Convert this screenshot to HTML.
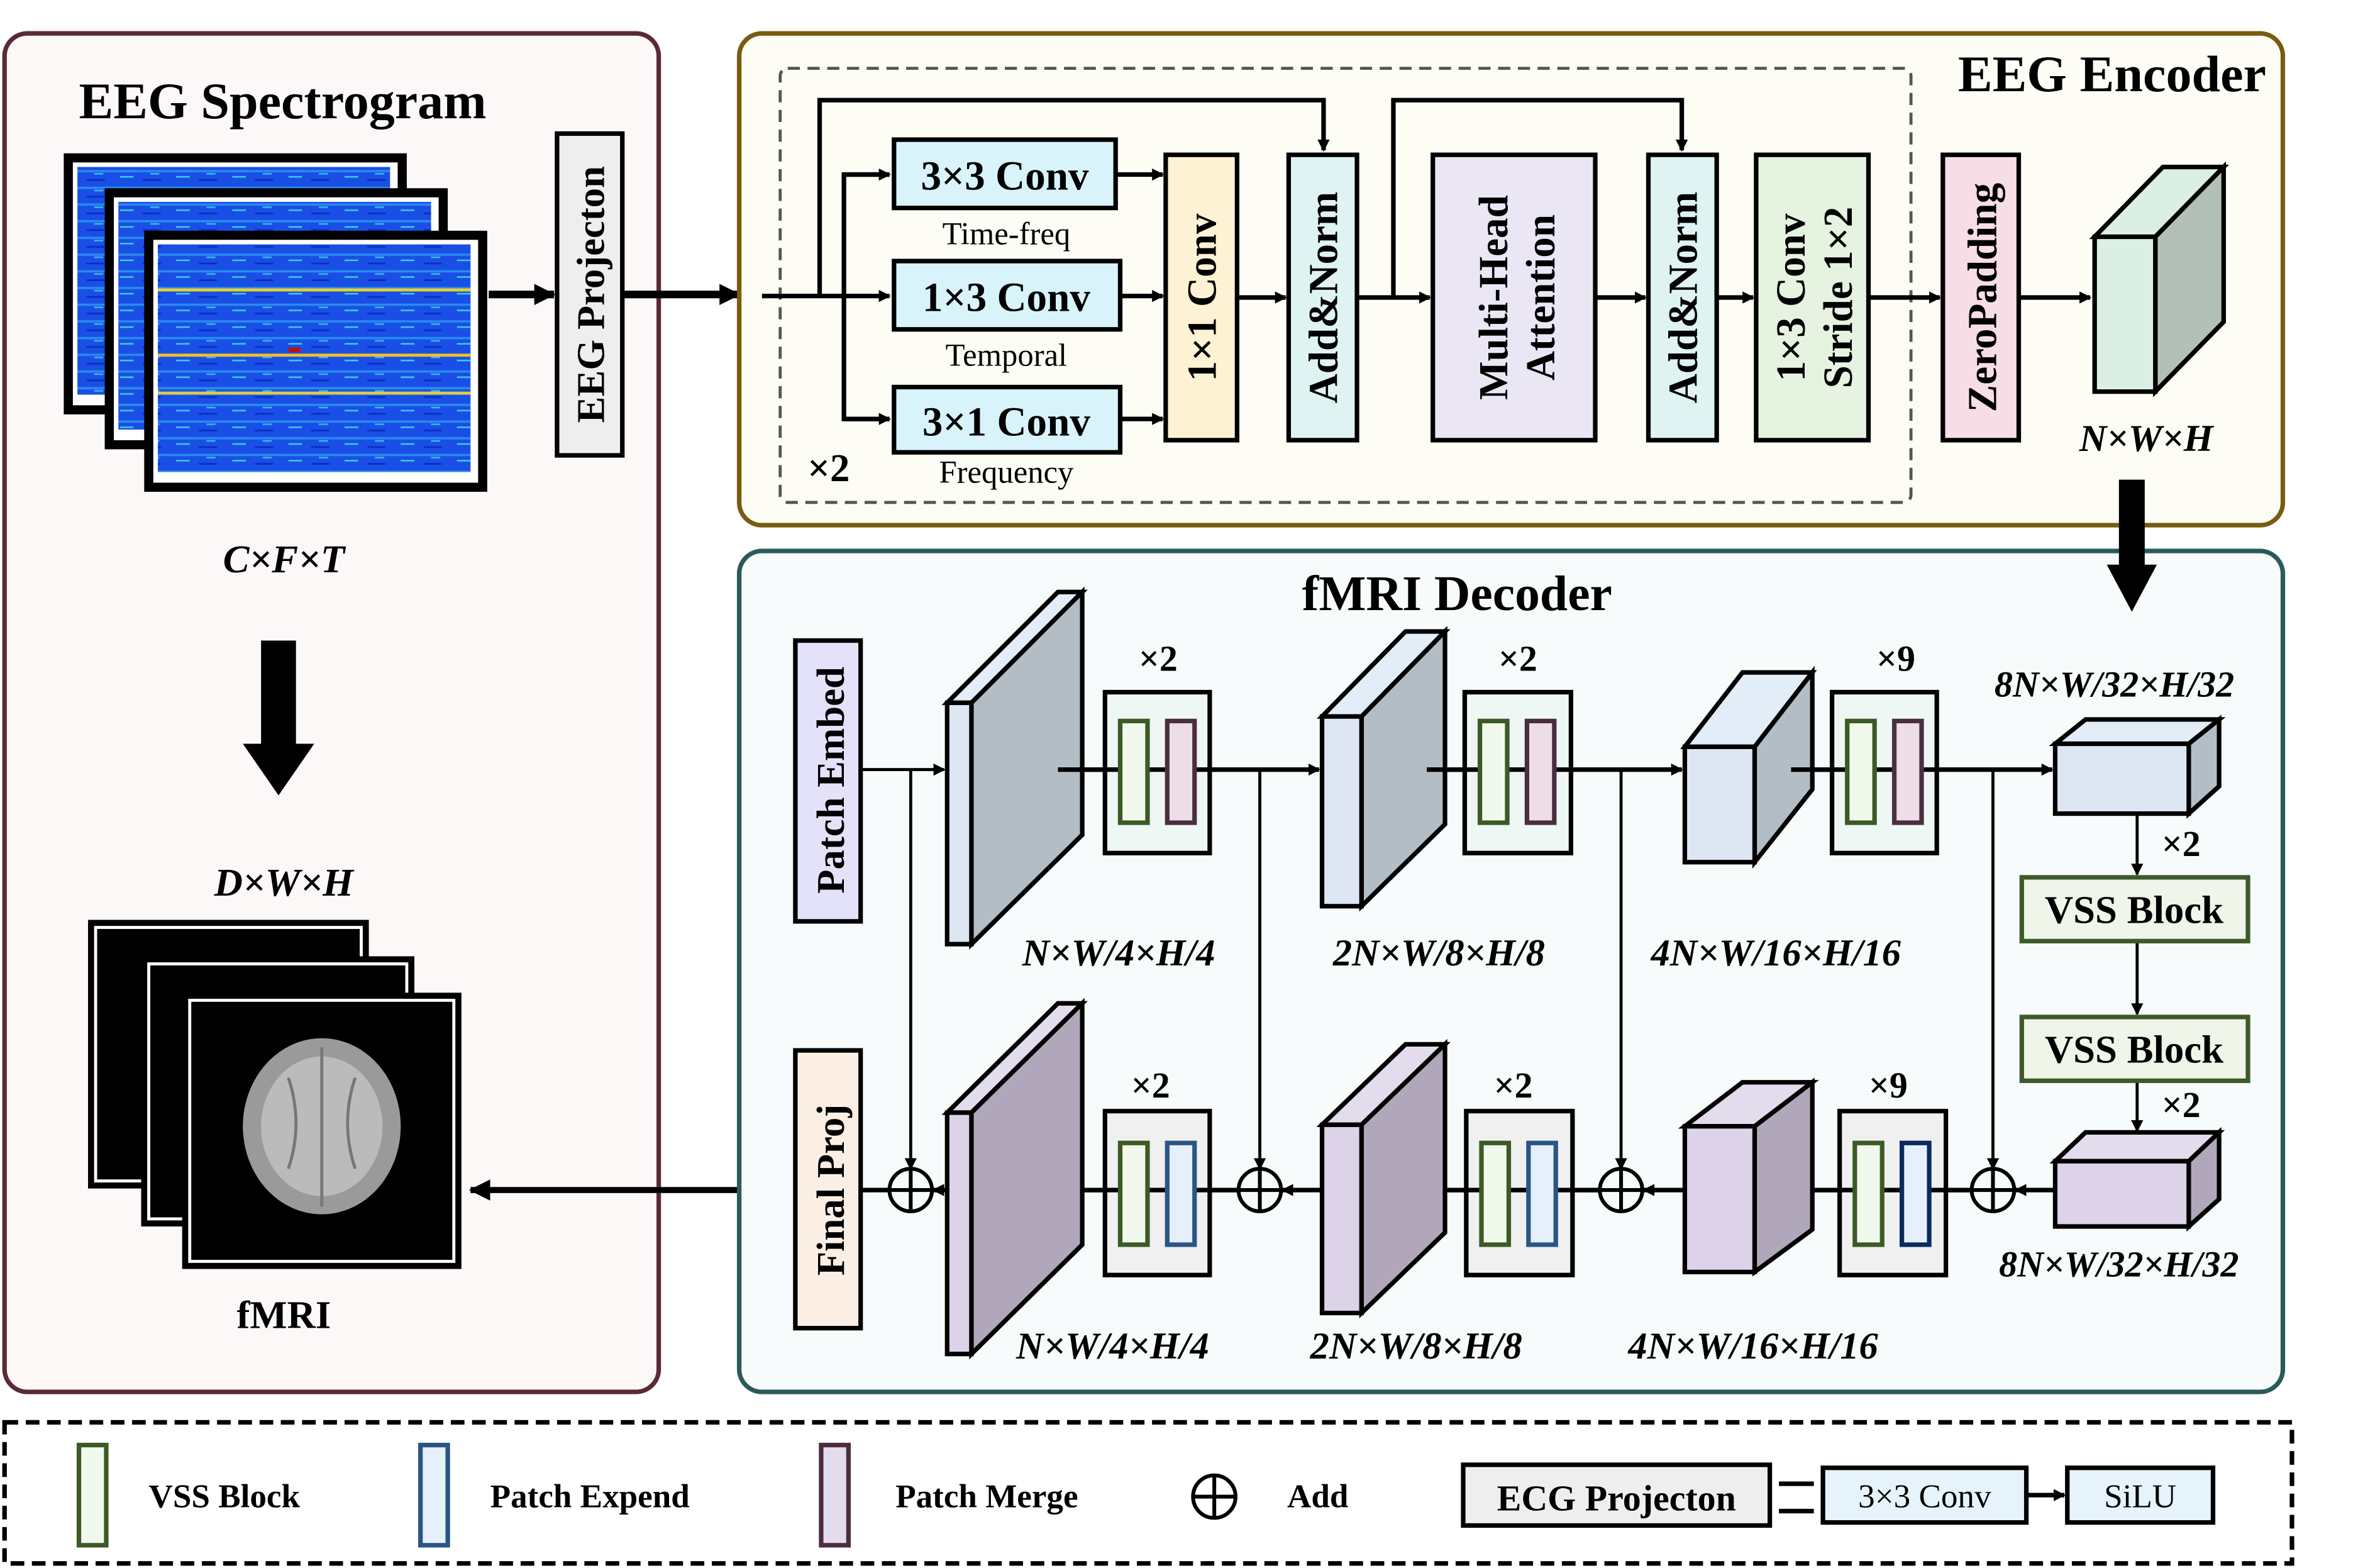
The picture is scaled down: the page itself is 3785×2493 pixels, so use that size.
<!DOCTYPE html>
<html><head><meta charset="utf-8"><style>
html,body{margin:0;padding:0;background:#fff}
svg{display:block}
text{font-family:"Liberation Serif",serif;fill:#000}
.b{font-weight:bold}
.i{font-style:italic;font-weight:bold}
</style></head><body>
<svg width="3785" height="2493" viewBox="0 0 1568 1033" preserveAspectRatio="none" xmlns="http://www.w3.org/2000/svg">
<defs>
<marker id="a" markerWidth="8" markerHeight="8" refX="7" refY="4" orient="auto" markerUnits="userSpaceOnUse"><path d="M0,0 L8,4 L0,8 Z" fill="#000"/></marker>
<marker id="A" markerWidth="14" markerHeight="14" refX="13" refY="7" orient="auto" markerUnits="userSpaceOnUse"><path d="M0,0 L14,7 L0,14 Z" fill="#000"/></marker>
<pattern id="spec" width="37" height="11" patternUnits="userSpaceOnUse">
<rect width="37" height="11" fill="#1a4fe6"/>
<rect y="2" width="37" height="1.5" fill="#2a8af0"/>
<rect x="5" y="6" width="9" height="1" fill="#3fd0e0"/>
<rect x="20" y="8" width="12" height="1.2" fill="#0a2fc0"/>
<rect x="25" y="4" width="6" height="1" fill="#40b8f0"/>
</pattern>
</defs>

<!-- Left panel -->
<rect x="3" y="22" width="431" height="895" rx="15" fill="#fcf8f8" stroke="#5a2a35" stroke-width="3"/>
<text x="52" y="78" class="b" font-size="34">EEG Spectrogram</text>
<rect x="45" y="104" width="220" height="166" fill="#fff" stroke="#000" stroke-width="6"/>
<rect x="51" y="110" width="206" height="150" fill="url(#spec)"/>
<rect x="72" y="127" width="220" height="166" fill="#fff" stroke="#000" stroke-width="6"/>
<rect x="78" y="133" width="206" height="150" fill="url(#spec)"/>
<rect x="98" y="155" width="220" height="166" fill="#fff" stroke="#000" stroke-width="6"/>
<rect x="104" y="161" width="206" height="150" fill="url(#spec)"/>
<rect x="104" y="190" width="206" height="2" fill="#e8d030"/>
<rect x="104" y="233" width="206" height="2" fill="#f0c020"/>
<rect x="104" y="258" width="206" height="2" fill="#d8d040"/>
<rect x="190" y="229" width="8" height="3" fill="#c01010"/>
<line x1="322" y1="194" x2="365" y2="194" stroke="#000" stroke-width="5" marker-end="url(#A)"/>
<rect x="367" y="88" width="43" height="212" fill="#eee" stroke="#000" stroke-width="3"/>
<text transform="translate(398,194) rotate(-90)" text-anchor="middle" class="b" font-size="26">EEG Projecton</text>
<line x1="410" y1="194" x2="487" y2="194" stroke="#000" stroke-width="5" marker-end="url(#A)"/>
<text x="187" y="377" text-anchor="middle" class="i" font-size="26">C×F×T</text>
<rect x="172" y="422" width="23" height="70" fill="#000"/>
<path d="M160,490 L207,490 L183.5,524 Z" fill="#000"/>
<text x="187" y="590" text-anchor="middle" class="i" font-size="26">D×W×H</text>
<rect x="58" y="606" width="185" height="177" fill="#000"/>
<rect x="63" y="611" width="175" height="167" fill="none" stroke="#fff" stroke-width="2"/>
<rect x="93" y="630" width="180" height="178" fill="#000"/>
<rect x="98" y="635" width="170" height="168" fill="none" stroke="#fff" stroke-width="2"/>
<rect x="120" y="654" width="184" height="182" fill="#000"/>
<rect x="125" y="659" width="174" height="172" fill="none" stroke="#fff" stroke-width="2"/>
<ellipse cx="212" cy="742" rx="52" ry="58" fill="#9a9a9a"/>
<ellipse cx="212" cy="742" rx="40" ry="46" fill="#bbb"/>
<path d="M212,690 L212,795 M190,710 Q200,740 190,770 M234,710 Q224,740 234,770" stroke="#777" stroke-width="2" fill="none"/>
<text x="187" y="875" text-anchor="middle" class="b" font-size="26">fMRI</text>
<line x1="512" y1="784" x2="310" y2="784" stroke="#000" stroke-width="4" marker-end="url(#A)"/>

<!-- EEG Encoder -->
<rect x="487" y="22" width="1017" height="324" rx="15" fill="#fdfcf5" stroke="#7a5c10" stroke-width="3"/>
<text x="1493" y="60" text-anchor="end" class="b" font-size="34">EEG Encoder</text>
<rect x="514" y="45" width="745" height="286" rx="5" fill="none" stroke="#555" stroke-width="2" stroke-dasharray="8,5"/>
<g stroke="#000" stroke-width="3" fill="none">
<line x1="502" y1="195" x2="586" y2="195" marker-end="url(#a)"/>
<polyline points="540,195 540,66 872,66 872,99" marker-end="url(#a)"/>
<polyline points="586,115 556,115 556,276 586,276" />
<line x1="556" y1="115" x2="586" y2="115" marker-end="url(#a)"/>
<line x1="556" y1="276" x2="586" y2="276" marker-end="url(#a)"/>
<line x1="735" y1="115" x2="766" y2="115" marker-end="url(#a)"/>
<line x1="738" y1="195" x2="766" y2="195" marker-end="url(#a)"/>
<line x1="738" y1="276" x2="766" y2="276" marker-end="url(#a)"/>
<line x1="815" y1="196" x2="847" y2="196" marker-end="url(#a)"/>
<line x1="894" y1="196" x2="942" y2="196" marker-end="url(#a)"/>
<polyline points="918,196 918,66 1108,66 1108,99" marker-end="url(#a)"/>
<line x1="1051" y1="196" x2="1084" y2="196" marker-end="url(#a)"/>
<line x1="1131" y1="196" x2="1155" y2="196" marker-end="url(#a)"/>
<line x1="1231" y1="196" x2="1278" y2="196" marker-end="url(#a)"/>
<line x1="1330" y1="196" x2="1377" y2="196" marker-end="url(#a)"/>
</g>
<g stroke="#000" stroke-width="3" fill="#d9f3fb">
<rect x="589" y="92" width="146" height="45"/>
<rect x="589" y="172" width="149" height="45"/>
<rect x="589" y="255" width="149" height="43"/>
</g>
<text x="662" y="125" text-anchor="middle" class="b" font-size="27">3×3 Conv</text>
<text x="663" y="205" text-anchor="middle" class="b" font-size="27">1×3 Conv</text>
<text x="663" y="287" text-anchor="middle" class="b" font-size="27">3×1 Conv</text>
<text x="663" y="161" text-anchor="middle" font-size="21">Time-freq</text>
<text x="663" y="241" text-anchor="middle" font-size="21">Temporal</text>
<text x="663" y="318" text-anchor="middle" font-size="21">Frequency</text>
<text x="532" y="317" class="b" font-size="26">×2</text>
<g stroke="#000" stroke-width="3">
<rect x="768" y="102" width="47" height="188" fill="#fdf3d4"/>
<rect x="849" y="102" width="45" height="188" fill="#dff3f3"/>
<rect x="944" y="102" width="107" height="188" fill="#ebe6f3"/>
<rect x="1086" y="102" width="45" height="188" fill="#dff3f3"/>
<rect x="1157" y="102" width="74" height="188" fill="#e6f3e1"/>
<rect x="1280" y="102" width="50" height="188" fill="#f6dde6"/>
</g>
<text transform="translate(801,196) rotate(-90)" text-anchor="middle" class="b" font-size="27">1×1 Conv</text>
<text transform="translate(881,196) rotate(-90)" text-anchor="middle" class="b" font-size="27">Add&amp;Norm</text>
<text transform="translate(993,196) rotate(-90)" text-anchor="middle" class="b" font-size="27">Multi-Head</text>
<text transform="translate(1024,196) rotate(-90)" text-anchor="middle" class="b" font-size="27">Attention</text>
<text transform="translate(1118,196) rotate(-90)" text-anchor="middle" class="b" font-size="27">Add&amp;Norm</text>
<text transform="translate(1189,196) rotate(-90)" text-anchor="middle" class="b" font-size="27">1×3 Conv</text>
<text transform="translate(1220,196) rotate(-90)" text-anchor="middle" class="b" font-size="27">Stride 1×2</text>
<text transform="translate(1315,196) rotate(-90)" text-anchor="middle" class="b" font-size="27">ZeroPadding</text>
<g stroke="#000" stroke-width="3">
<polygon points="1380,156 1420,156 1465,110 1425,110" fill="#dcefe5"/>
<polygon points="1420,156 1465,110 1465,212 1420,258" fill="#b2c0b8"/>
<rect x="1380" y="156" width="40" height="102" fill="#dcefe5"/>
</g>
<text x="1414" y="297" text-anchor="middle" class="i" font-size="25">N×W×H</text>

<!-- fMRI Decoder -->
<rect x="487" y="363" width="1017" height="554" rx="15" fill="#f7fbfc" stroke="#2a5a5a" stroke-width="3"/>
<rect x="1396" y="316" width="17" height="58" fill="#000"/>
<path d="M1388,372 L1421,372 L1404.5,403 Z" fill="#000"/>
<text x="960" y="402" text-anchor="middle" class="b" font-size="33">fMRI Decoder</text>
<rect x="524" y="422" width="43" height="185" fill="#e4e2f8" stroke="#000" stroke-width="3"/>
<text transform="translate(556,514) rotate(-90)" text-anchor="middle" class="b" font-size="26">Patch Embed</text>
<rect x="524" y="692" width="43" height="183" fill="#fbefe5" stroke="#000" stroke-width="3"/>
<text transform="translate(556,784) rotate(-90)" text-anchor="middle" class="b" font-size="26">Final Proj</text>

<g stroke="#000" stroke-width="2" fill="none">
<line x1="567" y1="507" x2="622" y2="507" marker-end="url(#a)"/>
<polyline points="600,507 600,770" marker-end="url(#a)"/>
<line x1="697" y1="507" x2="869" y2="507" stroke-width="3" marker-end="url(#a)"/>
<line x1="830" y1="507" x2="830" y2="770" marker-end="url(#a)"/>
<line x1="940" y1="507" x2="1108" y2="507" stroke-width="3" marker-end="url(#a)"/>
<line x1="1068" y1="507" x2="1068" y2="770" marker-end="url(#a)"/>
<line x1="1180" y1="507" x2="1352" y2="507" stroke-width="3" marker-end="url(#a)"/>
<line x1="1313" y1="507" x2="1313" y2="770" marker-end="url(#a)"/>
<line x1="1408" y1="536" x2="1408" y2="576" marker-end="url(#a)"/>
<line x1="1408" y1="620" x2="1408" y2="668" marker-end="url(#a)"/>
<line x1="1408" y1="712" x2="1408" y2="745" marker-end="url(#a)"/>
<line x1="1354" y1="784" x2="1328" y2="784" stroke-width="3" marker-end="url(#a)"/>
<line x1="1298" y1="784" x2="1158" y2="784" stroke-width="3"/>
<line x1="1110" y1="784" x2="1083" y2="784" stroke-width="3" marker-end="url(#a)"/>
<line x1="1053" y1="784" x2="900" y2="784" stroke-width="3"/>
<line x1="871" y1="784" x2="845" y2="784" stroke-width="3" marker-end="url(#a)"/>
<line x1="815" y1="784" x2="690" y2="784" stroke-width="3"/>
<line x1="624" y1="784" x2="615" y2="784" stroke-width="3" marker-end="url(#a)"/>
<line x1="585" y1="784" x2="567" y2="784" stroke-width="3"/>
</g>
<g stroke="#000" stroke-width="2.5" fill="none">
<circle cx="600" cy="784" r="14"/><path d="M586,784 H614 M600,770 V798"/>
<circle cx="830" cy="784" r="14"/><path d="M816,784 H844 M830,770 V798"/>
<circle cx="1068" cy="784" r="14"/><path d="M1054,784 H1082 M1068,770 V798"/>
<circle cx="1313" cy="784" r="14"/><path d="M1299,784 H1327 M1313,770 V798"/>
</g>

<g stroke="#000" stroke-width="3">
<polygon points="624,463 640,463 713,390 697,390" fill="#e3edf8"/>
<polygon points="640,463 713,390 713,550 640,622" fill="#b3bdc6"/>
<rect x="624" y="463" width="16" height="159" fill="#dde6f2"/>
<polygon points="871,472 897,472 952,416 926,416" fill="#e3edf8"/>
<polygon points="897,472 952,416 952,543 897,597" fill="#b3bdc6"/>
<rect x="871" y="472" width="26" height="125" fill="#dde6f2"/>
<polygon points="1110,492 1156,492 1194,443 1148,443" fill="#e3edf8"/>
<polygon points="1156,492 1194,443 1194,520 1156,568" fill="#b3bdc6"/>
<rect x="1110" y="492" width="46" height="76" fill="#dde6f2"/>
<polygon points="1354,490 1442,490 1462,474 1374,474" fill="#e3edf8"/>
<polygon points="1442,490 1462,474 1462,518 1442,536" fill="#b3bdc6"/>
<rect x="1354" y="490" width="88" height="46" fill="#dde6f2"/>
</g>
<g stroke="#000" stroke-width="3" fill="#eef7f4">
<rect x="728" y="456" width="69" height="106"/>
<rect x="965" y="456" width="70" height="106"/>
<rect x="1207" y="456" width="69" height="106"/>
</g>
<line x1="697" y1="507" x2="800" y2="507" stroke="#000" stroke-width="3"/>
<line x1="940" y1="507" x2="1035" y2="507" stroke="#000" stroke-width="3"/>
<line x1="1180" y1="507" x2="1276" y2="507" stroke="#000" stroke-width="3"/>
<g stroke-width="3">
<rect x="738" y="475" width="18" height="67" fill="#f1f8ec" stroke="#3b5a25"/>
<rect x="769" y="475" width="18" height="67" fill="#ecdde6" stroke="#4a2e40"/>
<rect x="975" y="475" width="18" height="67" fill="#f1f8ec" stroke="#3b5a25"/>
<rect x="1006" y="475" width="18" height="67" fill="#ecdde6" stroke="#4a2e40"/>
<rect x="1217" y="475" width="18" height="67" fill="#f1f8ec" stroke="#3b5a25"/>
<rect x="1248" y="475" width="18" height="67" fill="#ecdde6" stroke="#4a2e40"/>
</g>
<text x="763" y="442" text-anchor="middle" class="b" font-size="24">×2</text>
<text x="1000" y="442" text-anchor="middle" class="b" font-size="24">×2</text>
<text x="1249" y="442" text-anchor="middle" class="b" font-size="24">×9</text>
<text x="1393" y="459" text-anchor="middle" class="i" font-size="24">8N×W/32×H/32</text>
<text x="737" y="636" text-anchor="middle" class="i" font-size="25">N×W/4×H/4</text>
<text x="948" y="636" text-anchor="middle" class="i" font-size="25">2N×W/8×H/8</text>
<text x="1170" y="636" text-anchor="middle" class="i" font-size="25">4N×W/16×H/16</text>

<text x="1437" y="564" text-anchor="middle" class="b" font-size="24">×2</text>
<rect x="1332" y="578" width="149" height="42" fill="#f0f5ea" stroke="#3d5a2a" stroke-width="3"/>
<text x="1406" y="608" text-anchor="middle" class="b" font-size="26">VSS Block</text>
<rect x="1332" y="670" width="149" height="42" fill="#f0f5ea" stroke="#3d5a2a" stroke-width="3"/>
<text x="1406" y="700" text-anchor="middle" class="b" font-size="26">VSS Block</text>
<text x="1437" y="736" text-anchor="middle" class="b" font-size="24">×2</text>

<g stroke="#000" stroke-width="3">
<polygon points="1354,765 1442,765 1462,746 1374,746" fill="#e3dcec"/>
<polygon points="1442,765 1462,746 1462,790 1442,808" fill="#b0a8ba"/>
<rect x="1354" y="765" width="88" height="43" fill="#dcd3e8"/>
<polygon points="1110,742 1156,742 1194,713 1148,713" fill="#e3dcec"/>
<polygon points="1156,742 1194,713 1194,810 1156,838" fill="#b0a8ba"/>
<rect x="1110" y="742" width="46" height="96" fill="#dcd3e8"/>
<polygon points="871,741 897,741 952,688 926,688" fill="#e3dcec"/>
<polygon points="897,741 952,688 952,812 897,865" fill="#b0a8ba"/>
<rect x="871" y="741" width="26" height="124" fill="#dcd3e8"/>
<polygon points="624,733 640,733 713,661 697,661" fill="#e3dcec"/>
<polygon points="640,733 713,661 713,820 640,892" fill="#b0a8ba"/>
<rect x="624" y="733" width="16" height="159" fill="#dcd3e8"/>
</g>
<g stroke="#000" stroke-width="3" fill="#f0f0f0">
<rect x="728" y="732" width="69" height="108"/>
<rect x="966" y="732" width="70" height="108"/>
<rect x="1212" y="732" width="70" height="108"/>
</g>
<line x1="713" y1="784" x2="815" y2="784" stroke="#000" stroke-width="3"/>
<line x1="952" y1="784" x2="1053" y2="784" stroke="#000" stroke-width="3"/>
<line x1="1194" y1="784" x2="1298" y2="784" stroke="#000" stroke-width="3"/>
<g stroke-width="3">
<rect x="738" y="753" width="18" height="67" fill="#f1f8ec" stroke="#3b5a25"/>
<rect x="769" y="753" width="18" height="67" fill="#e6f0fb" stroke="#2a5585"/>
<rect x="976" y="753" width="18" height="67" fill="#f1f8ec" stroke="#3b5a25"/>
<rect x="1007" y="753" width="18" height="67" fill="#e6f0fb" stroke="#2a5585"/>
<rect x="1222" y="753" width="18" height="67" fill="#f1f8ec" stroke="#3b5a25"/>
<rect x="1253" y="753" width="18" height="67" fill="#e6f0fb" stroke="#0a2a60"/>
</g>
<text x="758" y="723" text-anchor="middle" class="b" font-size="24">×2</text>
<text x="997" y="723" text-anchor="middle" class="b" font-size="24">×2</text>
<text x="1244" y="723" text-anchor="middle" class="b" font-size="24">×9</text>
<text x="1396" y="841" text-anchor="middle" class="i" font-size="24">8N×W/32×H/32</text>
<text x="733" y="895" text-anchor="middle" class="i" font-size="25">N×W/4×H/4</text>
<text x="933" y="895" text-anchor="middle" class="i" font-size="25">2N×W/8×H/8</text>
<text x="1155" y="895" text-anchor="middle" class="i" font-size="25">4N×W/16×H/16</text>

<!-- legend -->
<rect x="3" y="937" width="1507" height="93" fill="#fff" stroke="#000" stroke-width="3" stroke-dasharray="9,5"/>
<rect x="52" y="952" width="18" height="66" fill="#f1f8ec" stroke="#3b5a25" stroke-width="3"/>
<text x="98" y="993" class="b" font-size="22">VSS Block</text>
<rect x="277" y="952" width="18" height="66" fill="#e6f0fb" stroke="#2a5585" stroke-width="3"/>
<text x="323" y="993" class="b" font-size="22">Patch Expend</text>
<rect x="541" y="952" width="18" height="66" fill="#e3dcec" stroke="#4a2e40" stroke-width="3"/>
<text x="590" y="993" class="b" font-size="22">Patch Merge</text>
<g stroke="#000" stroke-width="2.5" fill="none"><circle cx="800" cy="986" r="14"/><path d="M786,986 H814 M800,972 V1000"/></g>
<text x="848" y="993" class="b" font-size="22">Add</text>
<rect x="964" y="965" width="202" height="40" fill="#eee" stroke="#000" stroke-width="3"/>
<text x="1065" y="995" text-anchor="middle" class="b" font-size="24">ECG Projecton</text>
<rect x="1172" y="976" width="23" height="3" fill="#000"/>
<rect x="1172" y="994" width="23" height="3" fill="#000"/>
<rect x="1201" y="967" width="134" height="36" fill="#e6f3fb" stroke="#000" stroke-width="3"/>
<text x="1268" y="993" text-anchor="middle" font-size="22">3×3 Conv</text>
<line x1="1335" y1="985" x2="1360" y2="985" stroke="#000" stroke-width="3" marker-end="url(#a)"/>
<rect x="1362" y="967" width="96" height="36" fill="#e6f3fb" stroke="#000" stroke-width="3"/>
<text x="1410" y="993" text-anchor="middle" font-size="22">SiLU</text>
</svg>
</body></html>
